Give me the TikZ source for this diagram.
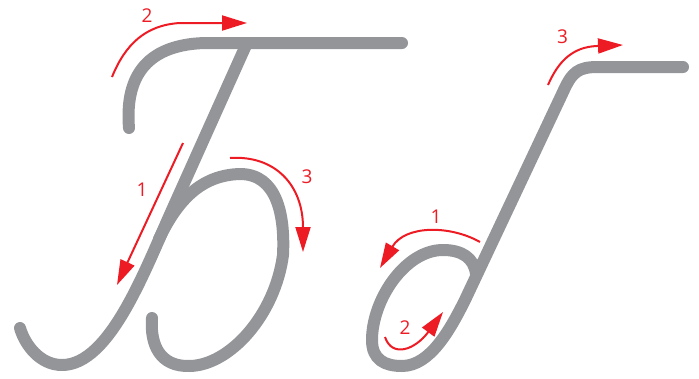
\documentclass[tikz,border=0pt]{standalone}
\usepackage{fontspec}
\setmainfont{Open Sans}
\usetikzlibrary{arrows.meta}
\definecolor{strokegray}{HTML}{939598}
\definecolor{arrowred}{HTML}{ED1C24}
\tikzset{
  pen/.style={draw=strokegray, line width=12pt, line cap=round, line join=round},
  guide/.style={draw=arrowred, line width=2pt, -{Triangle[length=25pt,width=15pt]}},
  num/.style={text=arrowred, font=\fontsize{19}{19}\selectfont, inner sep=0pt}
}
\begin{document}
\begin{tikzpicture}[x=1pt,y=-1pt]
\useasboundingbox (0,0) rectangle (699,378);
% Letter B (capital)
\draw[pen] (129,128) .. controls (126,90) and (135,45) .. (205,43) -- (402,43);
\draw[pen] (247,43) -- (172,210) .. controls (145,270) and (110,365) .. (62,365)
  .. controls (40,365) and (25,345) .. (20,328);
\draw[pen] (159,239) .. controls (180,195) and (205,175) .. (240,174)
  .. controls (277,174) and (285,215) .. (283,255)
  .. controls (275,315) and (230,365) .. (190,366)
  .. controls (160,367) and (150,345) .. (152,318);
% letter b (small)
\draw[pen] (476,274) .. controls (474,258) and (462,250) .. (443,250)
  .. controls (405,250) and (372,300) .. (372,340)
  .. controls (372,360) and (385,366) .. (402,366)
  .. controls (430,366) and (450,330) .. (465,300)
  -- (563,92) .. controls (572,72) and (578,67) .. (598,67) -- (683,67);
% guide arrows
\coordinate (a2s) at (112,77);
\coordinate (a2e) at (247,23);
\draw[guide] (a2s) .. controls (125,45) and (145,25) .. (180,23) -- (a2e);
\coordinate (a1s) at (183,143);
\coordinate (a1e) at (117,285);
\draw[guide] (a1s) -- (a1e);
\coordinate (a3s) at (230,158);
\coordinate (a3e) at (303,252);
\draw[guide] (a3s) .. controls (275,155) and (303,185) .. (a3e);
\coordinate (b3s) at (548,85);
\coordinate (b3e) at (623,45);
\draw[guide] (b3s) .. controls (558,62) and (572,47) .. (597,46) -- (b3e);
\coordinate (b1s) at (480,242);
\coordinate (b1e) at (380,268);
\draw[guide] (b1s) .. controls (450,225) and (405,225) .. (b1e);
\coordinate (b2s) at (385,337);
\coordinate (b2e) at (443,312);
\draw[guide] (b2s) .. controls (392,358) and (415,350) .. (b2e);
% labels
\node[num] (n2) at (147,15.5) {2};
\node[num] (n1) at (142,190) {1};
\node[num] (n3) at (307,177) {3};
\node[num] (m3) at (562.5,37) {3};
\node[num] (m1) at (436,217) {1};
\node[num] (m2) at (405,328) {2};
\end{tikzpicture}
\end{document}
